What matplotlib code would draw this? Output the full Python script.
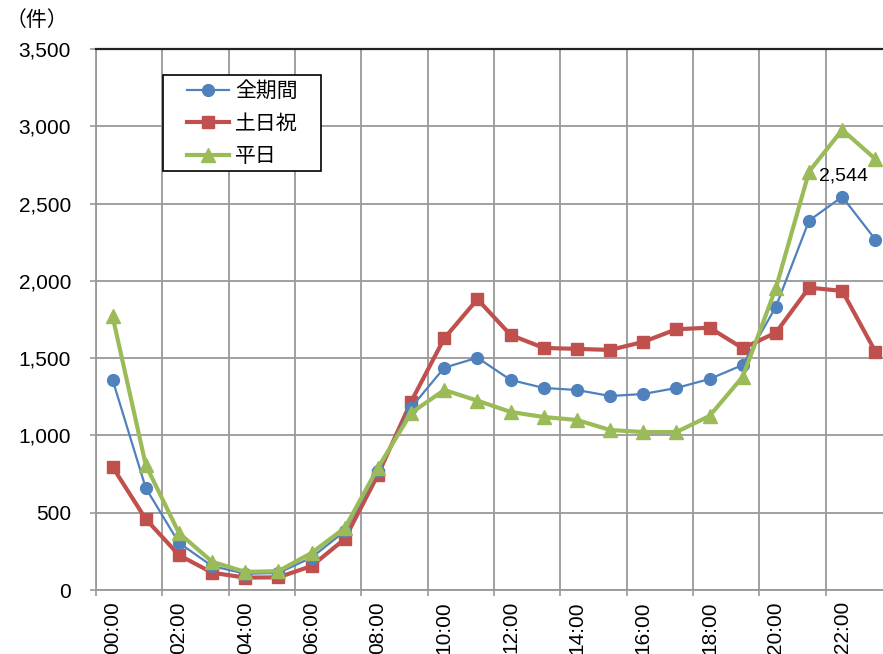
import numpy as np
import matplotlib
matplotlib.use('Agg')
import matplotlib.pyplot as plt
from matplotlib.patches import Rectangle
from matplotlib.ticker import FuncFormatter

plt.rcParams['font.family'] = ['Liberation Sans', 'Noto Sans CJK JP', 'DejaVu Sans']

hours = ['%02d:00' % h for h in range(24)]
all_days = [1360, 660, 305, 155, 105, 110, 210, 380, 770, 1180, 1438, 1503,
            1359, 1307, 1294, 1255, 1268, 1307, 1365, 1456, 1833, 2390, 2544, 2267]
holidays = [796, 459, 226, 112, 80, 82, 155, 330, 745, 1218, 1628, 1881,
            1650, 1566, 1560, 1553, 1605, 1687, 1697, 1564, 1665, 1956, 1935, 1542]
weekdays = [1770, 809, 369, 183, 117, 122, 240, 401, 790, 1145, 1294, 1225,
            1152, 1119, 1100, 1035, 1022, 1022, 1126, 1380, 1954, 2707, 2977, 2788]
peak_label = '2,544'

x = np.arange(len(hours)) + 0.5
W, H = 883, 654

fig = plt.figure(figsize=(W / 100, H / 100), dpi=100)
ax = fig.add_axes([96 / W, 64 / H, 796 / W, 541 / H])

l1, = ax.plot(x, all_days, color='#4F81BD', lw=1.6, marker='o', ms=8.5,
              label='全期間', zorder=4)
l2, = ax.plot(x, holidays, color='#C0504D', lw=3, marker='s', ms=8,
              label='土日祝', zorder=3)
l3, = ax.plot(x, weekdays, color='#9BBB59', lw=3, marker='^', ms=9.5,
              label='平日', zorder=5)

ax.annotate(peak_label, (x[22], all_days[22]), xytext=(1, 9),
            textcoords='offset points', ha='center', va='bottom', fontsize=14)

ax.set_xlim(0, 24)
ax.set_ylim(0, 3500)
ax.set_yticks(np.arange(0, 3501, 500))
ax.yaxis.set_major_formatter(FuncFormatter(lambda v, p: '{:,.0f}'.format(v)))

# gridlines on category edges every two hours, labels on the even hours
ax.set_xticks(np.arange(0, 24, 2))
ax.set_xticklabels([])
ax.set_xticks(x[::2], minor=True)
ax.set_xticklabels(hours[::2], minor=True, rotation=90, fontsize=15)
ax.tick_params(axis='x', which='minor', length=0, pad=8)
ax.tick_params(axis='x', which='major', length=4, width=1.2, color='#999999')
ax.tick_params(axis='y', length=4, width=1.2, color='#999999', labelsize=15, pad=14)

ax.grid(True, which='major', color='#999999', lw=1.3)
ax.set_axisbelow(True)
for s in ['left', 'bottom', 'right']:
    ax.spines[s].set_color('#999999')
    ax.spines[s].set_linewidth(1.3)
ax.spines['top'].set_color('#222222')
ax.spines['top'].set_linewidth(1.6)

# legend box drawn separately for the wider side margins
box = Rectangle((163 / W, 1 - 171 / H), 158 / W, 96 / H, transform=fig.transFigure,
                facecolor='white', edgecolor='black', lw=1.2, zorder=6, clip_on=False)
ax.add_patch(box)
leg = ax.legend(handles=[l1, l2, l3], loc='upper left',
                bbox_to_anchor=(187 / W, 1 - 81 / H), bbox_transform=fig.transFigure,
                fontsize=15, frameon=False, borderpad=0, handlelength=2.0,
                labelspacing=0.66, handletextpad=0.3, borderaxespad=0)
leg.set_zorder(7)

fig.text(6 / W, 1 - 20 / H, '（件）', fontsize=15, va='center', ha='left',
         family=['Noto Sans CJK JP', 'DejaVu Sans'])

fig.savefig('out.png', dpi=100)
